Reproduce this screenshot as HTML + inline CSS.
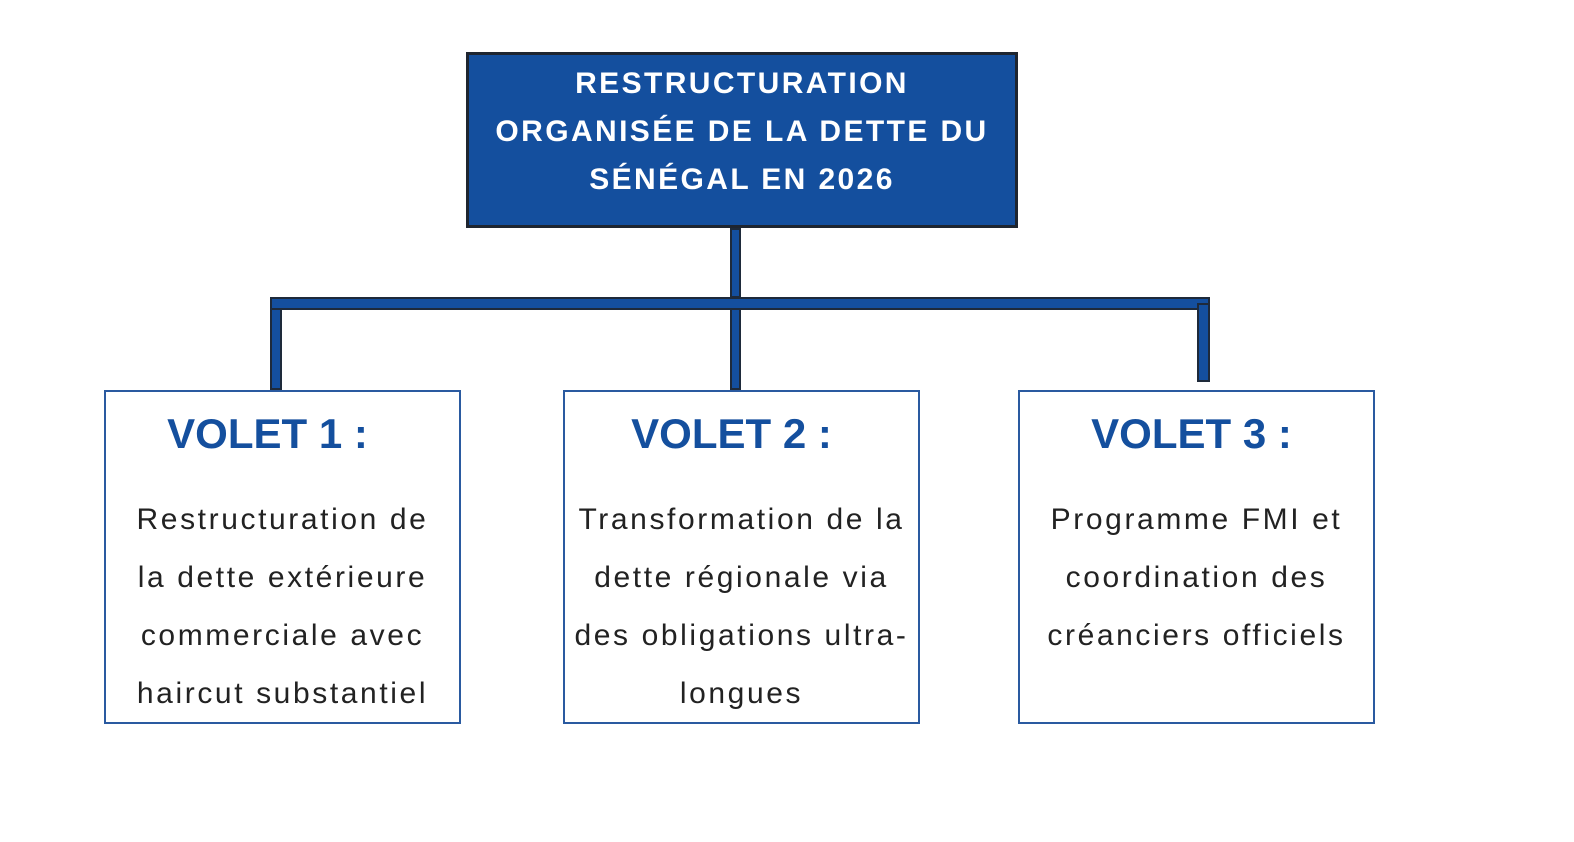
<!DOCTYPE html>
<html><head><style>
body{margin:0;width:1574px;height:842px;background:#fff;position:relative;overflow:hidden;font-family:"Liberation Sans",sans-serif}
.a{position:absolute;box-sizing:border-box}
.bar{background:#144f9e;border:2px solid #1e2a3a}
.top{left:466px;top:52px;width:552px;height:176px;background:#144f9e;border:3px solid #1e2530;color:#fff;font-weight:bold;font-size:30px;line-height:48px;text-align:center;padding-top:5px;letter-spacing:2.4px}
.box{top:390px;width:357px;height:334px;border:2px solid #2a5aa0;text-align:center}
.h{color:#144f9e;font-weight:bold;font-size:42px;margin-top:18px;line-height:48px}
.t{color:#222;font-size:30px;line-height:58px;margin-top:33px;letter-spacing:2.6px;white-space:nowrap}
</style></head><body>
<div class="a top">RESTRUCTURATION<br>ORGANISÉE DE LA DETTE DU<br>SÉNÉGAL EN 2026</div>
<div class="a bar" style="left:730px;top:228px;width:11px;height:70px"></div>
<div class="a bar" style="left:270px;top:297px;width:940px;height:13px"></div>
<div class="a bar" style="left:270px;top:308px;width:12px;height:82px"></div>
<div class="a bar" style="left:730px;top:308px;width:11px;height:82px"></div>
<div class="a bar" style="left:1197px;top:303px;width:13px;height:79px"></div>
<div class="a box" style="left:104px"><div class="h" style="margin-right:30px">VOLET 1 :</div><div class="t">Restructuration de<br>la dette extérieure<br>commerciale avec<br>haircut substantiel</div></div>
<div class="a box" style="left:563px"><div class="h" style="margin-right:20px">VOLET 2 :</div><div class="t">Transformation de la<br>dette régionale via<br>des obligations ultra-<br>longues</div></div>
<div class="a box" style="left:1018px"><div class="h" style="margin-right:10px">VOLET 3 :</div><div class="t">Programme FMI et<br>coordination des<br>créanciers officiels</div></div>
</body></html>
